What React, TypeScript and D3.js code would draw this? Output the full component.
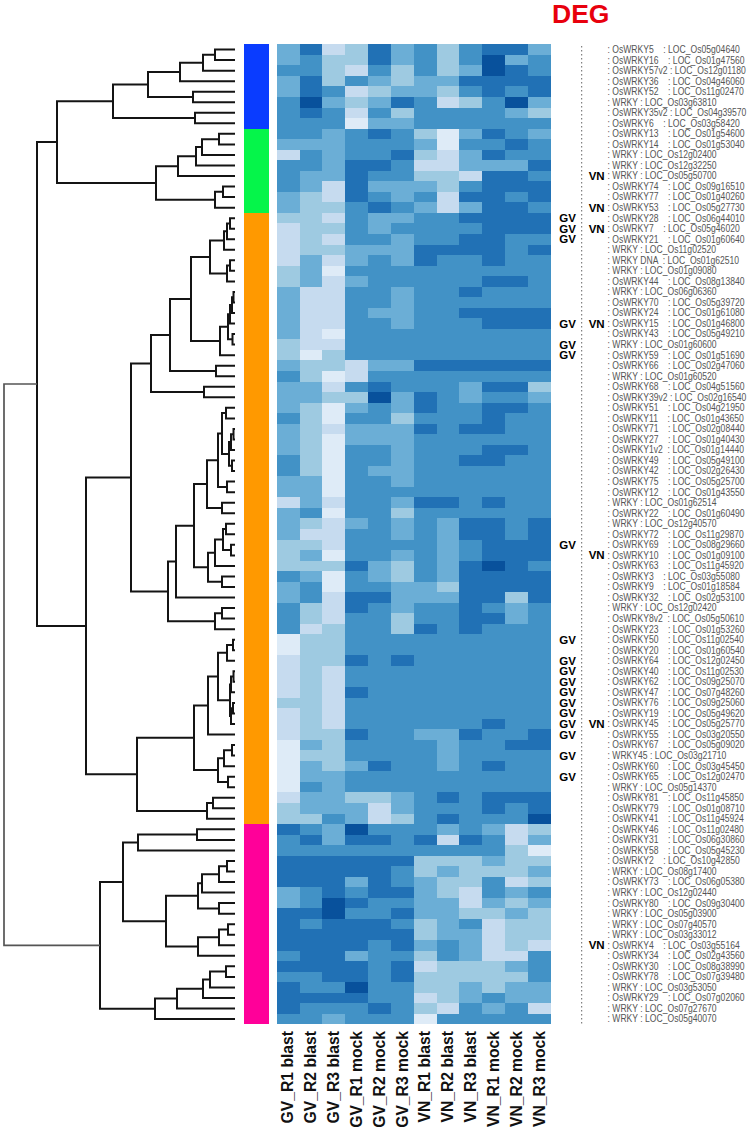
import React from "react";
import * as d3 from "d3";

const title = "DEG";
const columns = ["GV_R1 blast","GV_R2 blast","GV_R3 blast","GV_R1 mock","GV_R2 mock","GV_R3 mock","VN_R1 blast","VN_R2 blast","VN_R3 blast","VN_R1 mock","VN_R2 mock","VN_R3 mock"];

const genes = ["OsWRKY5","OsWRKY16","OsWRKY57v2","OsWRKY36","OsWRKY52","WRKY","OsWRKY35v2","OsWRKY6","OsWRKY13","OsWRKY14","WRKY","WRKY","WRKY","OsWRKY74","OsWRKY77","OsWRKY53","OsWRKY28","OsWRKY7","OsWRKY21","WRKY","WRKY DNA","WRKY","OsWRKY44","WRKY","OsWRKY70","OsWRKY24","OsWRKY15","OsWRKY43","WRKY","OsWRKY59","OsWRKY66","WRKY","OsWRKY68","OsWRKY39v2","OsWRKY51","OsWRKY11","OsWRKY71","OsWRKY27","OsWRKY1v2","OsWRKY49","OsWRKY42","OsWRKY75","OsWRKY12","WRKY","OsWRKY22","WRKY","OsWRKY72","OsWRKY69","OsWRKY10","OsWRKY63","OsWRKY3","OsWRKY9","OsWRKY32","WRKY","OsWRKY8v2","OsWRKY23","OsWRKY50","OsWRKY20","OsWRKY64","OsWRKY40","OsWRKY62","OsWRKY47","OsWRKY76","OsWRKY19","OsWRKY45","OsWRKY55","OsWRKY67","WRKY45","OsWRKY60","OsWRKY65","WRKY","OsWRKY81","OsWRKY79","OsWRKY41","OsWRKY46","OsWRKY31","OsWRKY58","OsWRKY2","WRKY","OsWRKY73","WRKY","OsWRKY80","WRKY","WRKY","WRKY","OsWRKY4","OsWRKY34","OsWRKY30","OsWRKY78","WRKY","OsWRKY29","WRKY","WRKY"];

const locs = ["Os05g04640","Os01g47560","Os12g01180","Os04g46060","Os11g02470","Os03g63810","Os04g39570","Os03g58420","Os01g54600","Os01g53040","Os12g02400","Os12g32250","Os05g50700","Os09g16510","Os01g40260","Os05g27730","Os06g44010","Os05g46020","Os01g60640","Os11g02520","Os01g62510","Os01g09080","Os08g13840","Os06g06360","Os05g39720","Os01g61080","Os01g46800","Os05g49210","Os01g60600","Os01g51690","Os02g47060","Os01g60520","Os04g51560","Os02g16540","Os04g21950","Os01g43650","Os02g08440","Os01g40430","Os01g14440","Os05g49100","Os02g26430","Os05g25700","Os01g43550","Os01g62514","Os01g60490","Os12g40570","Os11g29870","Os08g29660","Os01g09100","Os11g45920","Os03g55080","Os01g18584","Os02g53100","Os12g02420","Os05g50610","Os01g53260","Os11g02540","Os01g60540","Os12g02450","Os11g02530","Os09g25070","Os07g48260","Os09g25060","Os05g49620","Os05g25770","Os03g20550","Os05g09020","Os03g21710","Os03g45450","Os12g02470","Os05g14370","Os11g45850","Os01g08710","Os11g45924","Os11g02480","Os06g30860","Os05g45230","Os10g42850","Os08g17400","Os06g05380","Os12g02440","Os09g30400","Os05g03900","Os07g40570","Os03g33012","Os03g55164","Os02g43560","Os08g38990","Os07g39480","Os03g53050","Os07g02060","Os07g27670","Os05g40070"];

const gvRows = [17,18,19,27,29,30,48,57,59,60,61,62,63,64,65,66,68,70];
const vnRows = [13,16,18,27,49,65,86];

// Expression class (1 = lightest, 7 = darkest) per gene, per column
const levels = [
"462364535664","453364535745","553253534765","463543446666","465234435656","574346523574","565253555543","555144555555",
"554565314654","444555415565","254556324655","554665224446","544655332665","542644435666","432654526656","433565424665",
"332544556666","233545555666","232554556655","233444666656","242454655655","341555555555","342455555665","422554556555",
"422554555555","422544556666","422554555666","421555555555","322555555555","313555555555","433244666666","531255555555",
"442565554663","443374654554","431454655665","531553555655","432444656655","431444555555","431554555665","531554556655",
"531544555555","441554555555","441555555555","242554665655","451553555555","432454546656","422554546656","332555545666",
"341554545666","333643546765","541543546666","451554436666","452664446636","532654556545","532553556645","523553656555",
"133555555555","133555555555","233656555555","232555555555","232555555555","232655555555","332555555555","232555555555",
"232555555655","233655446556","143555545566","133555545555","143465545655","144555555555","154555555555","244334565666",
"344424555656","335423565557","654755545423","564665626524","555555555531","666666333433","666665343334","666465433523",
"456566432545","457655442434","667556443343","656665345233","666666344233","666656454232","566455354225","666656233345",
"556656333335","655755334344","666655234544","655565325452","554555155555"
];
const matrix = levels.map(r => Array.from(r).map(Number));

const clusterNames = ["blue","green","orange","pink"];
const clusterSizes = [8,8,58,19];
const clusterColors = ["#0A3CFF","#05F54A","#FF9900","#FF0099"];

const blues = ["#deebf7","#c6dbef","#9ecae1","#6baed6","#4292c6","#2171b5","#08519c"];

// Dendrogram: node = [merge distance, left, right]; leaf = row number (1-based)
type T = number | [number, T, T];
const n = (d: number, a: T, b: T): T => [d, a, b];
const blueBranch = n(122, n(87, n(55, n(32, n(20,1,2),3),4), n(42,5,6)), n(40,7,8));
const greenBranch = n(79, n(57, n(39, n(33, n(16,9,10),11),12),13), n(20, n(12,14,15),16));
const orangeA = n(44,
  n(25, n(11, n(8, n(5,17,18),19),20), n(8, n(5,21,22),23)),
  n(15, n(7, n(5, n(3, n(1.5,24,25),26),27), n(2.5,28,29)),30));
const orangeB = n(84, n(65, orangeA, n(19,31,32)), n(31,33,34));
const orangeC = n(41,
  n(28, n(17, n(13, n(9,35,36), n(6, n(4, n(1.5,37,38),39), n(3,40,41))), n(8,42,43)), n(13,44,45)),
  n(27, n(20, n(12, n(9,46,47), n(4,48,49)),50), n(13,51,52)));
const orangeD = n(67, n(59, orangeC, 53), n(20, n(13,54,55),56));
const orangeE = n(41,
  n(27, n(17, n(8, n(2,57,58),59), n(5, n(4, n(1.5,60,61),62), n(4, n(2,63,64),65))),66),
  n(17, n(11, n(3,67,68),69), n(7,70,71)));
const orangeBranch = n(149, n(104, orangeB, orangeD), n(98, orangeE, n(28, n(22,72,73),74)));
const pinkBranch = n(135,
  n(112, n(97, n(38,75,76),77),
    n(69, n(37, n(33, n(16, n(8,78,79),80),81), n(16,82,83)), n(37, n(16, n(7,84,85),86),87))),
  n(80, n(58, n(32, n(25, n(9,88,89),90),91),92),93));
const tree = n(231, n(198, n(178, blueBranch, greenBranch), orangeBranch), pinkBranch);

const padFor = (g: string) => {
  if (g === "WRKY" || g === "WRKY45" || (g.endsWith("v2") && g.length > 9)) return " ";
  if (g === "WRKY DNA" || g.endsWith("v2")) return "  ";
  return "    ";
};

export default function App() {
  const rowIds = d3.range(1, matrix.length + 1);
  const y = d3.scaleBand<number>().domain(rowIds).range([44.3, 1024.3]);
  const x = d3.scaleBand<number>().domain(d3.range(columns.length)).range([276.7, 550.7]);
  const color = d3.scaleOrdinal<number, string>().domain([1,2,3,4,5,6,7]).range(blues);
  const dist = d3.scaleLinear().domain([0, 231]).range([235, 4]);
  const cy = (r: number) => (y(r) as number) + y.bandwidth() / 2;

  const links: { d: string; root: boolean }[] = [];
  const walk = (t: T): [number, number] => {
    if (typeof t === "number") return [dist(0), cy(t)];
    const [a, b] = [walk(t[1]), walk(t[2])];
    const px = dist(t[0]);
    const p = d3.path();
    p.moveTo(a[0], a[1]); p.lineTo(px, a[1]); p.lineTo(px, b[1]); p.lineTo(b[0], b[1]);
    links.push({ d: p.toString(), root: t === tree });
    return [px, (a[1] + b[1]) / 2];
  };
  walk(tree);

  let start = 0;
  const bars = clusterNames.map((name, i) => {
    const first = start + 1; start += clusterSizes[i];
    return { name, first, last: start, color: clusterColors[i] };
  });

  const sans = "'Liberation Sans', Arial, sans-serif";
  return (
    <svg width={755} height={1130} style={{ position: "absolute", left: 0, top: 0, background: "#fff" }} fontFamily={sans}>
      <g fill="none">
        {links.map((l, i) => (
          <path key={i} d={l.d} stroke={l.root ? "#555" : "#141414"} strokeWidth={l.root ? 1.7 : 2} />
        ))}
      </g>
      <g shapeRendering="crispEdges">
        {bars.map(b => (
          <rect key={b.name} x={243.5} width={25.5} y={y(b.first)} height={(y(b.last) as number) + y.bandwidth() - (y(b.first) as number)} fill={b.color} />
        ))}
        {matrix.map((row, r) => row.map((v, c) => (
          <rect key={r + "-" + c} x={x(c)} y={y(r + 1)} width={x.bandwidth()} height={y.bandwidth()} fill={color(v)} />
        )))}
      </g>
      <text x={552} y={23} fontSize={26.5} fontWeight="bold" fill="#E8000D">{title}</text>
      <line x1={581.7} x2={581.7} y1={46} y2={1024} stroke="#666" strokeWidth={1} strokeDasharray="1.5 2.5" />
      <g fontSize={10} fill="#555">
        {genes.map((g, i) => (
          <text key={i} xmlSpace="preserve" style={{ whiteSpace: "pre" }} transform={`translate(607.5,${cy(i + 1) + 3.4}) scale(0.86,1)`}>{": " + g + padFor(g) + ": LOC_" + locs[i]}</text>
        ))}
      </g>
      <g fontSize={11.5} fontWeight="bold" fill="#000">
        {gvRows.map(r => <text key={r} x={559.3} y={cy(r) + 4}>GV</text>)}
        {vnRows.map(r => <text key={r} x={588.7} y={cy(r) + 4}>VN</text>)}
      </g>
      <g fontSize={15.7} fontWeight="bold" fill="#111">
        {columns.map((c, i) => {
          const cx = (x(i) as number) + x.bandwidth() / 2 + 5.3;
          return <text key={c} transform={`translate(${cx},1031) rotate(-90)`} textAnchor="end">{c}</text>;
        })}
      </g>
    </svg>
  );
}
